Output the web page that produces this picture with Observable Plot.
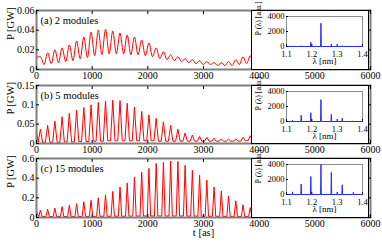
<!DOCTYPE html>
<html><head><meta charset="utf-8">
<script src="https://cdn.jsdelivr.net/npm/d3@7"></script>
<script src="https://cdn.jsdelivr.net/npm/@observablehq/plot@0.6"></script>
<style>
html,body{margin:0;padding:0;background:#fff;}
#fig{position:relative;width:382px;height:242px;overflow:hidden;background:#fff;}
.abs{position:absolute;left:0;}
.inset{position:absolute;left:251px;width:118px;border:1px solid #000;box-sizing:border-box;background:#fff;}
</style></head><body><div id="fig"></div>
<script>
// ---- data ----
const xTicks = [0, 1000, 2000, 3000, 4000, 5000, 6000];
const peakTimes = [70,200,330,460,590,720,850,980,1110,1240,1370,1500,1630,1760,1890,2020,2150,2280,2410,2540,2670,2800,2930,3060,3190,3320,3450,3580,3710,3840];

const aStart = 0.012;
const aPeaks = [0.013,0.017,0.020,0.022,0.025,0.029,0.033,0.038,0.040,0.041,0.039,0.037,0.035,0.033,0.030,0.027,0.022,0.018,0.015,0.013,0.011,0.010,0.009,0.008,0.007,0.007,0.008,0.010,0.013,0.014];
const aTroughs = [0.005,0.006,0.007,0.008,0.009,0.011,0.012,0.014,0.015,0.016,0.016,0.016,0.015,0.015,0.014,0.013,0.011,0.010,0.009,0.008,0.007,0.006,0.005,0.005,0.004,0.004,0.004,0.005,0.006,0.006];
const aTail = [[3970, 0.006], [6000, 0.008]];

const bStart = 0.030;
const bPeaks = [0.037,0.047,0.058,0.069,0.078,0.086,0.093,0.100,0.106,0.110,0.112,0.111,0.104,0.094,0.083,0.074,0.065,0.056,0.047,0.037,0.027,0.022,0.018,0.016,0.014,0.012,0.011,0.012,0.016,0.020];
const bTroughs = [0.003,0.003,0.003,0.004,0.004,0.005,0.005,0.006,0.006,0.007,0.007,0.007,0.007,0.007,0.007,0.007,0.006,0.006,0.006,0.006,0.006,0.006,0.006,0.006,0.006,0.006,0.006,0.006,0.007,0.008];
const bTail = [[3970, 0.008], [6000, 0.010]];

const cStart = 0.060;
const cPeaks = [0.075,0.085,0.095,0.110,0.125,0.140,0.160,0.175,0.200,0.230,0.265,0.310,0.350,0.410,0.460,0.500,0.550,0.560,0.575,0.570,0.530,0.480,0.430,0.380,0.310,0.270,0.220,0.170,0.130,0.100];
const cTroughs = [0.010,0.010,0.010,0.010,0.010,0.010,0.011,0.011,0.012,0.012,0.013,0.013,0.014,0.014,0.015,0.015,0.015,0.015,0.015,0.015,0.014,0.014,0.013,0.012,0.012,0.011,0.011,0.010,0.010,0.010];
const cTail = [[3970, 0.010], [6000, 0.020]];

const specLam = [1.124, 1.158, 1.196, 1.236, 1.277, 1.320, 1.364];
const specA = [40, 100, 570, 3100, 360, 120, 50];
const specB = [180, 830, 1170, 2920, 960, 440, 90];
const specC = [350, 1390, 2390, 4000, 2950, 1300, 300];

const panelLabels = ["(a) 2 modules", "(b) 5 modules", "(c) 15 modules"];
const yDomains = [[0, 0.06], [0, 0.15], [0, 0.6]];
const yTicksList = [[0, 0.02, 0.04, 0.06], [0, 0.05, 0.1, 0.15], [0, 0.2, 0.4, 0.6]];
const specXTicks = [1.1, 1.2, 1.3, 1.4];
const specYTicks = [0, 2000, 4000];

// ---- build series from read values ----
function buildSeries(start, peaks, troughs, tail, hw) {
  const pts = [{t: 0, p: start}];
  peakTimes.forEach((t, k) => {
    if (hw) pts.push({t: t - hw, p: k === 0 ? troughs[0] : troughs[k - 1]});
    pts.push({t, p: peaks[k]});
    if (hw) pts.push({t: t + hw, p: troughs[k]});
    else pts.push({t: t + 65, p: troughs[k]});
  });
  tail.forEach(([t, p]) => pts.push({t, p}));
  return pts;
}
function buildSpec(vals) {
  const pts = [{l: 1.1, p: 0}];
  specLam.forEach((l, i) => {
    pts.push({l: l - 0.0015, p: 0}, {l, p: vals[i]}, {l: l + 0.0015, p: 0});
  });
  pts.push({l: 1.4, p: 0});
  return pts;
}

const series = [
  buildSeries(aStart, aPeaks, aTroughs, aTail, 0),
  buildSeries(bStart, bPeaks, bTroughs, bTail, 40),
  buildSeries(cStart, cPeaks, cTroughs, cTail, 30)
];
const curves = ["catmull-rom", "linear", "linear"];
const specs = [buildSpec(specA), buildSpec(specB), buildSpec(specC)];

const layout = [
  {top: 0, height: 82, mb: 13, frameTop: 10},
  {top: 75, height: 81, mb: 13, frameTop: 85},
  {top: 148, height: 94, mb: 25, frameTop: 158}
];

const fig = document.getElementById("fig");
const font = "'Liberation Serif', 'Times New Roman', serif";

layout.forEach((L, i) => {
  const marks = [
    Plot.line(series[i], {x: "t", y: "p", stroke: "#ff0000", strokeWidth: 1, curve: curves[i]}),
    Plot.frame({stroke: "#7f7f7f", strokeWidth: 2}),
    Plot.axisX({ticks: xTicks, tickSize: -3, tickPadding: 5, tickFormat: d => String(d), label: null}),
    Plot.axisX({anchor: "top", ticks: xTicks, tickSize: -3, tickFormat: () => "", label: null}),
    Plot.axisY({ticks: yTicksList[i], tickSize: -3, tickPadding: 5, tickFormat: d => String(d), label: null}),
    Plot.axisY({anchor: "right", ticks: yTicksList[i], tickSize: -3, tickFormat: () => "", label: null}),
    Plot.text([panelLabels[i]], {text: d => d, frameAnchor: "top-left", dx: 4, dy: 10, textAnchor: "start", lineAnchor: "middle", fontSize: 10.5}),
    Plot.text(["P [GW]"], {text: d => d, frameAnchor: "left", dx: -26, rotate: -90, fontSize: 10.5})
  ];
  if (i === 2) marks.push(Plot.text(["t [as]"], {text: d => d, frameAnchor: "bottom", dy: 18, fontSize: 10.5}));
  const p = Plot.plot({
    width: 382, height: L.height,
    marginLeft: 36, marginRight: 12, marginTop: 10, marginBottom: L.mb,
    style: {background: "transparent", overflow: "visible", fontFamily: font, fontSize: "10px", color: "#000"},
    x: {domain: [0, 6000]},
    y: {domain: yDomains[i]},
    marks
  });
  p.classList.add("abs");
  p.style.top = L.top + "px";
  p.style.position = "absolute";
  fig.appendChild(p);
});

layout.forEach((L, i) => {
  const box = document.createElement("div");
  box.className = "inset";
  box.style.top = L.frameTop + "px";
  box.style.height = (L.height - L.mb - 10 + 1) + "px";
  const h = L.height - L.mb - 10 - 1;
  const p = Plot.plot({
    width: 116, height: h,
    marginLeft: 34, marginRight: 6, marginTop: 5, marginBottom: h - 35,
    style: {background: "#fff", overflow: "visible", fontFamily: font, fontSize: "8.5px", color: "#000"},
    x: {domain: [1.1, 1.4]},
    y: {domain: [0, 4000]},
    marks: [
      Plot.frame({stroke: "#8c8c8c", strokeWidth: 1}),
      Plot.line(specs[i], {x: "l", y: "p", stroke: "#2a2aff", strokeWidth: 1}),
      Plot.axisX({ticks: specXTicks, tickSize: -2, tickPadding: 6, tickFormat: d => String(d), label: null}),
      Plot.axisY({ticks: specYTicks, tickSize: -2, tickPadding: 4, tickFormat: d => String(d), label: null}),
      Plot.text(["P (λ) [a.u.]"], {text: d => d, frameAnchor: "left", dx: -28, dy: 4, rotate: -90, fontSize: 8}),
      Plot.text(["λ [nm]"], {text: d => d, frameAnchor: "bottom", dy: 17, fontSize: 9})
    ]
  });
  box.appendChild(p);
  fig.appendChild(box);
});
</script></body></html>
